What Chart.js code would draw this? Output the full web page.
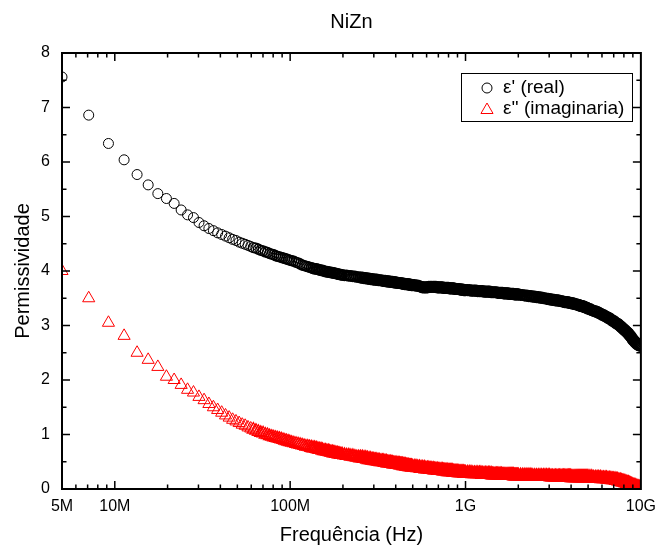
<!DOCTYPE html>
<html>
<head>
<meta charset="utf-8">
<script src="https://cdn.jsdelivr.net/npm/chart.js@4.4.1/dist/chart.umd.min.js"></script>
<style>
html,body{margin:0;padding:0;background:#fff;}
#wrap{width:664px;height:547px;}
</style>
</head>
<body>
<div id="wrap"><canvas id="c" width="664" height="547"></canvas></div>
<script>
// Frequency in MHz
const freqMHz = [
5,7.1,9.2,11.3,13.4,15.5,17.6,19.7,21.8,23.9,26,28.1,30.2,32.3,34.4,36.5,38.6,40.7,42.8,44.9,47,49.1,51.2,53.3,55.4,57.5,59.6,61.7,63.8,65.9,68,70.1,72.2,74.3,76.4,78.5,80.6,82.7,84.8,86.9,89,91.1,93.2,95.3,97.4,99.5,
102,105,108,111,114,117,120,123,126,129,132,135,138,141,144,147,150,153,156,159,162,165,168,171,174,177,180,183,186,189,192,195,198,
204,210,216,222,228,234,240,246,252,258,264,270,276,282,288,294,300,306,312,318,324,330,336,342,348,354,360,366,372,378,384,390,396,402,408,414,420,426,432,438,444,450,456,462,468,474,480,486,492,498,
510,522,534,546,558,570,582,594,606,618,630,642,654,666,678,690,702,714,726,738,750,762,774,786,798,810,822,834,846,858,870,882,894,906,918,930,942,954,966,978,990,
1000,1025,1050,1075,1100,1125,1150,1175,1200,1225,1250,1275,1300,1325,1350,1375,1400,1425,1450,1475,1500,1525,1550,1575,1600,1625,1650,1675,1700,1725,1750,1775,1800,1825,1850,1875,1900,1925,1950,1975,
2000,2060,2120,2180,2240,2300,2360,2420,2480,2540,2600,2660,2720,2780,2840,2900,2960,3020,3080,3140,3200,3260,3320,3380,3440,3500,3560,3620,3680,3740,3800,3860,3920,3980,4040,4100,4160,4220,4280,4340,4400,4460,4520,4580,4640,4700,4760,4820,4880,4940,
5000,5125,5250,5375,5500,5625,5750,5875,6000,6125,6250,6375,6500,6625,6750,6875,7000,7125,7250,7375,7500,7625,7750,7875,8000,8125,8250,8375,8500,8625,8750,8875,9000,9125,9250,9375,9500,9625,9750,9875,10000
];

// ε' (real)
const realPerm = [
7.56,6.86,6.34,6.04,5.77,5.58,5.42,5.33,5.24,5.12,5.03,4.98,4.89,4.83,4.78,4.74,4.70,4.67,4.64,4.61,4.58,4.56,4.53,4.51,4.49,4.47,4.45,4.43,4.42,4.40,4.38,4.37,4.35,4.34,4.32,4.31,4.30,4.28,4.27,4.26,4.25,4.24,4.23,4.22,4.21,4.20,
4.19,4.18,4.16,4.15,4.13,4.11,4.10,4.09,4.08,4.07,4.06,4.05,4.04,4.04,4.03,4.02,4.01,4.01,4.00,3.99,3.99,3.98,3.98,3.97,3.97,3.96,3.96,3.95,3.95,3.94,3.94,3.93,3.93,
3.92,3.92,3.91,3.91,3.90,3.90,3.89,3.89,3.88,3.88,3.87,3.87,3.86,3.86,3.85,3.85,3.84,3.84,3.84,3.83,3.83,3.83,3.82,3.82,3.82,3.81,3.81,3.81,3.80,3.80,3.80,3.79,3.79,3.79,3.78,3.78,3.78,3.78,3.77,3.77,3.77,3.76,3.76,3.76,3.76,3.75,3.75,3.75,3.74,3.74,
3.74,3.73,3.73,3.72,3.71,3.70,3.70,3.70,3.70,3.71,3.71,3.71,3.71,3.71,3.71,3.70,3.70,3.70,3.70,3.70,3.69,3.69,3.69,3.69,3.69,3.68,3.68,3.68,3.68,3.68,3.67,3.67,3.67,3.67,3.67,3.66,3.66,3.66,3.66,3.65,3.65,
3.65,3.65,3.65,3.64,3.64,3.64,3.64,3.63,3.63,3.63,3.63,3.62,3.62,3.62,3.62,3.62,3.61,3.61,3.61,3.61,3.61,3.60,3.60,3.60,3.60,3.60,3.59,3.59,3.59,3.59,3.59,3.58,3.58,3.58,3.58,3.58,3.57,3.57,3.57,3.57,
3.57,3.56,3.56,3.55,3.55,3.54,3.54,3.53,3.53,3.52,3.52,3.51,3.51,3.50,3.50,3.49,3.49,3.48,3.48,3.47,3.47,3.46,3.46,3.46,3.45,3.45,3.44,3.44,3.43,3.43,3.43,3.42,3.42,3.41,3.41,3.40,3.40,3.39,3.39,3.38,3.38,3.37,3.36,3.36,3.35,3.35,3.34,3.33,3.33,3.32,
3.31,3.30,3.28,3.27,3.26,3.25,3.23,3.22,3.20,3.19,3.17,3.16,3.14,3.13,3.11,3.09,3.08,3.06,3.04,3.03,3.01,2.99,2.97,2.95,2.93,2.91,2.89,2.87,2.85,2.82,2.80,2.77,2.74,2.72,2.70,2.68,2.66,2.65,2.64,2.63,2.63
];

// ε'' (imaginaria)
const imagPerm = [
4.00,3.50,3.05,2.81,2.50,2.37,2.24,2.06,2.00,1.91,1.82,1.77,1.69,1.63,1.56,1.50,1.45,1.40,1.35,1.31,1.27,1.24,1.21,1.18,1.16,1.13,1.11,1.09,1.07,1.05,1.03,1.02,1.00,0.99,0.97,0.96,0.95,0.94,0.93,0.92,0.91,0.90,0.89,0.88,0.87,0.86,
0.85,0.84,0.83,0.82,0.81,0.80,0.79,0.78,0.78,0.77,0.76,0.75,0.75,0.74,0.73,0.72,0.72,0.71,0.70,0.70,0.69,0.69,0.68,0.67,0.67,0.66,0.66,0.65,0.65,0.64,0.64,0.63,0.63,
0.62,0.61,0.61,0.60,0.60,0.59,0.58,0.58,0.57,0.57,0.56,0.56,0.55,0.54,0.54,0.53,0.53,0.52,0.52,0.51,0.51,0.50,0.50,0.50,0.49,0.49,0.48,0.48,0.48,0.47,0.47,0.46,0.46,0.46,0.45,0.45,0.45,0.44,0.44,0.44,0.43,0.43,0.43,0.42,0.42,0.42,0.41,0.41,0.41,0.40,
0.40,0.40,0.39,0.39,0.38,0.38,0.38,0.37,0.37,0.37,0.36,0.36,0.36,0.35,0.35,0.35,0.34,0.34,0.34,0.34,0.33,0.33,0.33,0.33,0.32,0.32,0.32,0.32,0.32,0.31,0.31,0.31,0.31,0.31,0.30,0.30,0.30,0.30,0.30,0.30,0.29,
0.29,0.29,0.29,0.29,0.28,0.28,0.28,0.28,0.28,0.28,0.27,0.27,0.27,0.27,0.27,0.27,0.27,0.26,0.26,0.26,0.26,0.26,0.26,0.26,0.26,0.25,0.25,0.25,0.25,0.25,0.25,0.25,0.25,0.25,0.25,0.25,0.24,0.24,0.24,0.24,
0.24,0.24,0.24,0.24,0.24,0.24,0.24,0.23,0.23,0.23,0.23,0.23,0.23,0.23,0.23,0.23,0.23,0.23,0.22,0.22,0.22,0.22,0.22,0.22,0.22,0.22,0.22,0.22,0.22,0.22,0.22,0.22,0.22,0.22,0.21,0.21,0.21,0.21,0.21,0.21,0.21,0.21,0.21,0.21,0.21,0.21,0.21,0.21,0.21,0.21,
0.21,0.21,0.21,0.20,0.20,0.20,0.20,0.20,0.19,0.19,0.19,0.19,0.18,0.18,0.18,0.17,0.17,0.17,0.16,0.16,0.15,0.15,0.14,0.13,0.13,0.12,0.11,0.10,0.10,0.09,0.08,0.07,0.06,0.05,0.05,0.04,0.03,0.03,0.02,0.02,0.01
];

const seriesNames = ["\u03b5' (real)", "\u03b5'' (imaginaria)"];
const chartTitle = "NiZn";
const xAxisTitle = "Frequência (Hz)";
const yAxisTitle = "Permissividade";
const xTickValues = [5, 10, 100, 1000, 10000];
const xTickLabels = ["5M", "10M", "100M", "1G", "10G"];
const xMinorTicks = [6,7,8,9,20,30,40,50,60,70,80,90,200,300,400,500,600,700,800,900,2000,3000,4000,5000,6000,7000,8000,9000];
const xMajorTicks = [10, 100, 1000];
const yTickValues = [0,1,2,3,4,5,6,7,8];
const yMinorTicks = [0.5,1.5,2.5,3.5,4.5,5.5,6.5,7.5];

const FONT = "'Liberation Sans', Arial, Helvetica, sans-serif";

function toPoints(xs, ys) {
  const pts = [];
  for (let i = 0; i < xs.length && i < ys.length; i++) pts.push({x: xs[i], y: ys[i]});
  return pts;
}

// marker stroke grows where the measured points pile up, so the dense run reads as a solid band
function denseStroke(ctx) {
  const f = ctx.raw ? ctx.raw.x : 0;
  if (f < 60) return 1;
  if (f < 130) return 1.3;
  if (f < 250) return 1.7;
  return 2.2;
}

const frameTicks = {
  id: 'frameTicks',
  afterDatasetsDraw(chart) {
    const {ctx, chartArea: a, scales: {x, y}} = chart;
    ctx.save();
    ctx.strokeStyle = '#000';
    ctx.lineWidth = 1.5;
    ctx.beginPath();
    const maj = 8, mnr = 4.5;
    const vx = (v, len) => {
      const px = x.getPixelForValue(v);
      ctx.moveTo(px, a.bottom); ctx.lineTo(px, a.bottom - len);
      ctx.moveTo(px, a.top); ctx.lineTo(px, a.top + len);
    };
    xMajorTicks.forEach(v => vx(v, maj));
    xMinorTicks.forEach(v => vx(v, mnr));
    const hy = (v, len) => {
      const py = y.getPixelForValue(v);
      ctx.moveTo(a.left, py); ctx.lineTo(a.left + len, py);
      ctx.moveTo(a.right, py); ctx.lineTo(a.right - len, py);
    };
    yTickValues.forEach(v => hy(v, maj));
    yMinorTicks.forEach(v => hy(v, mnr));
    ctx.stroke();
    ctx.lineWidth = 2;
    ctx.strokeRect(a.left, a.top, a.right - a.left, a.bottom - a.top);
    ctx.restore();
  }
};

const boxLegend = {
  id: 'boxLegend',
  afterDraw(chart) {
    const ctx = chart.ctx;
    const ds = chart.data.datasets;
    ctx.save();
    ctx.strokeStyle = '#000';
    ctx.lineWidth = 1;
    ctx.strokeRect(461.5, 73.5, 171, 48);
    ctx.font = "19px " + FONT;
    ctx.textBaseline = 'middle';
    ctx.textAlign = 'left';
    const rows = [88, 109];
    ds.forEach((d, i) => {
      ctx.strokeStyle = d.borderColor;
      ctx.fillStyle = 'rgba(0,0,0,0)';
      ctx.lineWidth = 1;
      Chart.helpers.drawPoint(ctx, {pointStyle: d.pointStyle, radius: d.pointRadius, rotation: 0, borderWidth: 1}, 487, rows[i] + (d.pointStyle === 'triangle' ? 1 : 0));
      ctx.fillStyle = '#000';
      ctx.fillText(d.label, 503, rows[i]);
    });
    ctx.restore();
  }
};

new Chart(document.getElementById('c'), {
  type: 'scatter',
  data: {
    datasets: [
      {
        label: seriesNames[0],
        data: toPoints(freqMHz, realPerm),
        pointStyle: 'circle',
        pointRadius: 5,
        borderColor: '#000000',
        backgroundColor: 'rgba(0,0,0,0)',
        pointBorderWidth: denseStroke,
        showLine: false
      },
      {
        label: seriesNames[1],
        data: toPoints(freqMHz, imagPerm),
        pointStyle: 'triangle',
        pointRadius: 7,
        borderColor: '#ff0000',
        backgroundColor: 'rgba(0,0,0,0)',
        pointBorderWidth: denseStroke,
        showLine: false
      }
    ]
  },
  options: {
    responsive: false,
    animation: false,
    devicePixelRatio: 1,
    layout: {padding: {left: 0, right: 16, top: 0, bottom: 0}},
    plugins: {
      legend: {display: false},
      tooltip: {enabled: false},
      title: {
        display: true, text: chartTitle, fullSize: false, color: '#000',
        font: {family: FONT, size: 20, weight: 'normal'},
        padding: {top: 10, bottom: 19}
      }
    },
    scales: {
      x: {
        type: 'logarithmic', min: 5, max: 10000,
        afterBuildTicks: s => { s.ticks = xTickValues.map(v => ({value: v})); },
        afterFit: s => { s.height = 58; },
        grid: {display: false, drawTicks: false},
        border: {display: false},
        ticks: {
          autoSkip: false, maxRotation: 0, minRotation: 0, padding: 8, color: '#000',
          font: {family: FONT, size: 16},
          callback: v => { const i = xTickValues.indexOf(v); return i >= 0 ? xTickLabels[i] : ''; }
        },
        title: {display: true, text: xAxisTitle, color: '#000', font: {family: FONT, size: 20}, padding: {top: 0, bottom: 0}}
      },
      y: {
        min: 0, max: 8,
        afterBuildTicks: s => { s.ticks = yTickValues.map(v => ({value: v})); },
        afterFit: s => { s.width = 62; },
        grid: {display: false, drawTicks: false},
        border: {display: false},
        ticks: {padding: 12, color: '#000', font: {family: FONT, size: 16}, callback: v => String(v)},
        title: {display: true, text: yAxisTitle, color: '#000', font: {family: FONT, size: 20}, padding: {top: 11, bottom: 0}}
      }
    }
  },
  plugins: [frameTicks, boxLegend]
});
</script>
</body>
</html>
